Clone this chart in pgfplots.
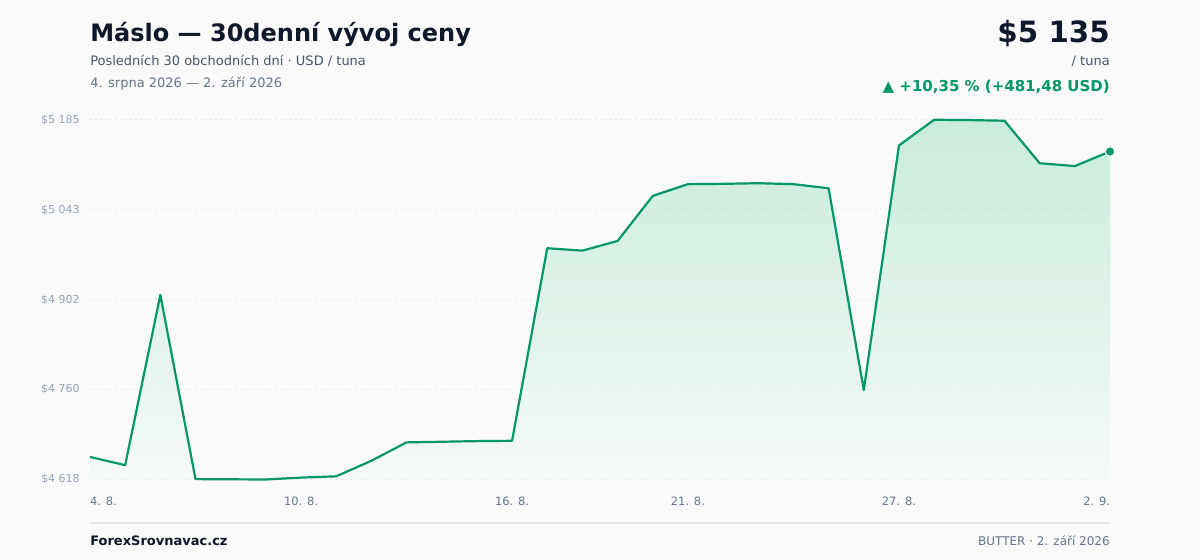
\documentclass[border=0pt]{standalone}
\usepackage{fontspec}
\setmainfont{DejaVu Sans}
\usepackage{pgfplots}
\pgfplotsset{compat=1.18}
\definecolor{bg}{HTML}{FAFAFA}
\definecolor{titlec}{HTML}{0F172A}
\definecolor{subc}{HTML}{475569}
\definecolor{datec}{HTML}{64748B}
\definecolor{ytc}{HTML}{94A3B8}
\definecolor{gridc}{HTML}{E2E8F0}
\definecolor{linec}{HTML}{059669}
\definecolor{filltop}{HTML}{A8E3C8}
\definecolor{fillbot}{HTML}{F3FAF5}
\definecolor{sepc}{HTML}{E5E7EB}
\pgfplotstableread{
x y
0 4653.52
1 4640.6
2 4909
3 4618.6
4 4618.3
5 4618
6 4621
7 4623
8 4647.5
9 4676.5
10 4677.5
11 4678.5
12 4679
13 4982.5
14 4978.7
15 4994
16 5065
17 5083.5
18 5084
19 5085
20 5083.5
21 5077
22 4759
23 5144.5
24 5185
25 5184.5
26 5183.5
27 5116.5
28 5112
29 5135
}\pricedata
\pgfplotstableread{
x y
0 4618
0 4653.52
1 4640.6
2 4909
3 4618.6
4 4618.3
5 4618
6 4621
7 4623
8 4647.5
9 4676.5
10 4677.5
11 4678.5
12 4679
13 4982.5
14 4978.7
15 4994
16 5065
17 5083.5
18 5084
19 5085
20 5083.5
21 5077
22 4759
23 5144.5
24 5185
25 5184.5
26 5183.5
27 5116.5
28 5112
29 5135
29 4618
}\filldata
\begin{document}
\begin{tikzpicture}
\path[use as bounding box, fill=bg] (0,0) rectangle (900pt,420pt);
\begin{axis}[
  at={(67.5pt,60.375pt)}, anchor=south west,
  scale only axis, width=765pt, height=269.8pt,
  xmin=0, xmax=29, ymin=4618, ymax=5185,
  clip=false,
  axis line style={draw=none},
  major tick length=0pt,
  ymajorgrids,
  grid style={gridc, line width=0.75pt, dash pattern=on 1.5pt off 2.25pt},
  ytick={4618,4759.75,4901.5,5043.25,5185},
  yticklabels={\$4 618,\$4 760,\$4 902,\$5 043,\$5 185},
  yticklabel style={anchor=east, inner sep=0pt, xshift=-7.5pt, font=\fontsize{8.25pt}{10pt}\selectfont, text=ytc},
  xtick={0,6,12,17,23,29},
  xticklabels={\makebox[0pt][l]{4. 8.},10. 8.,16. 8.,21. 8.,27. 8.,\makebox[0pt][r]{2. 9.}},
  xticklabel style={anchor=base, inner sep=0pt, yshift=-19.8pt, font=\fontsize{8.6pt}{10pt}\selectfont, text=datec},
]
\addplot[draw=none, top color=filltop, bottom color=fillbot, fill opacity=0.6] table {\filldata} -- cycle;
\addplot[linec, line width=1.65pt, line join=round] table {\pricedata};
\addplot[only marks, mark=*, mark size=3.6pt, mark options={fill=linec, draw=white, line width=0.8pt}] coordinates {(29,5135)};
\end{axis}
\begin{scope}[x=0.75pt, y=-0.75pt, yshift=420pt]
\node[anchor=base west, inner sep=0pt, text=titlec, font=\fontsize{18pt}{20pt}\selectfont\bfseries] at (90,42) {Máslo — 30denní vývoj ceny};
\node[anchor=base west, inner sep=0pt, text=subc, font=\fontsize{9.75pt}{12pt}\selectfont] at (90,66) {Posledních 30 obchodních dní · USD / tuna};
\node[anchor=base west, inner sep=0pt, text=datec, font=\fontsize{9.75pt}{12pt}\selectfont] at (90,88) {4. srpna 2026 — 2. září 2026};
\node[anchor=base east, inner sep=0pt, text=titlec, font=\fontsize{22pt}{24pt}\selectfont\bfseries] at (1110,43) {\$5 135};
\node[anchor=base east, inner sep=0pt, text=subc, font=\fontsize{9.75pt}{12pt}\selectfont] at (1110,66) {/ tuna};
\node[anchor=base east, inner sep=0pt, text=linec, font=\fontsize{11.25pt}{12pt}\selectfont\bfseries] at (1110,92) {▲ +10,35 \% (+481,48 USD)};
\draw[sepc, line width=0.9pt] (90,523) -- (1110,523);
\node[anchor=base west, inner sep=0pt, text=titlec, font=\fontsize{9.75pt}{12pt}\selectfont\bfseries] at (90,546) {ForexSrovnavac.cz};
\node[anchor=base east, inner sep=0pt, text=datec, font=\fontsize{9pt}{12pt}\selectfont] at (1110,546) {BUTTER · 2. září 2026};
\end{scope}
\end{tikzpicture}
\end{document}
